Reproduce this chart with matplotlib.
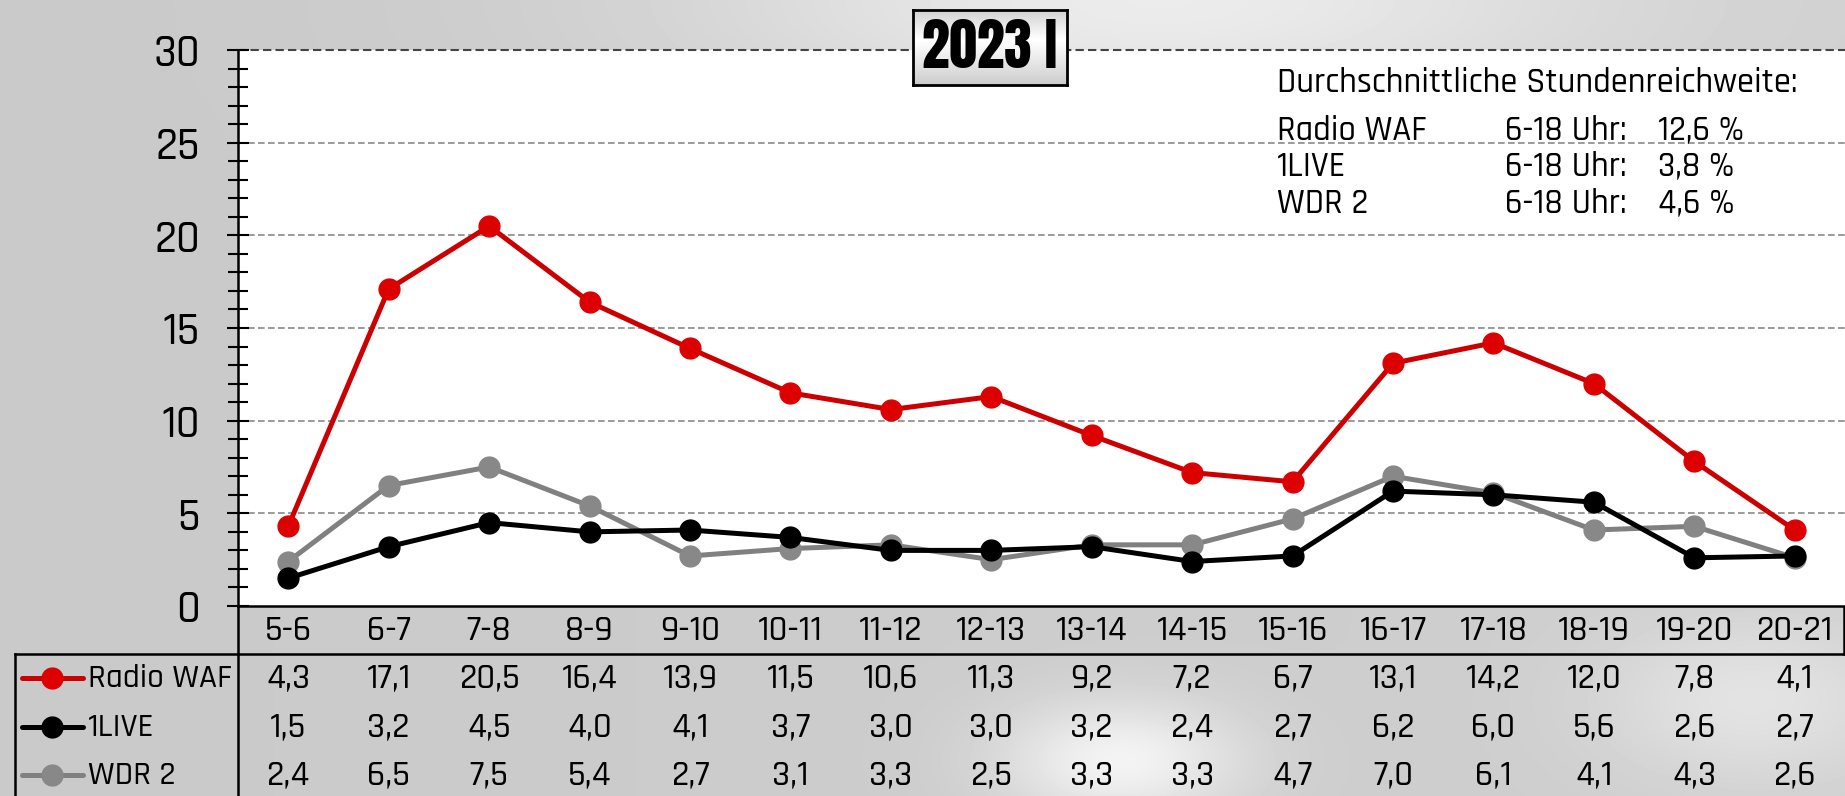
import numpy as np
import matplotlib
matplotlib.use("Agg")
import matplotlib.pyplot as plt
from matplotlib.ticker import MultipleLocator

# data
hours = ["5-6", "6-7", "7-8", "8-9", "9-10", "10-11", "11-12", "12-13",
         "13-14", "14-15", "15-16", "16-17", "17-18", "18-19", "19-20", "20-21"]
radio_waf = [4.3, 17.1, 20.5, 16.4, 13.9, 11.5, 10.6, 11.3, 9.2, 7.2, 6.7, 13.1, 14.2, 12.0, 7.8, 4.1]
live1 = [1.5, 3.2, 4.5, 4.0, 4.1, 3.7, 3.0, 3.0, 3.2, 2.4, 2.7, 6.2, 6.0, 5.6, 2.6, 2.7]
wdr2 = [2.4, 6.5, 7.5, 5.4, 2.7, 3.1, 3.3, 2.5, 3.3, 3.3, 4.7, 7.0, 6.1, 4.1, 4.3, 2.6]
series_names = ["Radio WAF", "1LIVE", "WDR 2"]
series_colors = ["#cc0000", "#000000", "#808080"]
marker_colors = ["#dd0000", "#000000", "#888888"]
avg_values = ["12,6 %", "3,8 %", "4,6 %"]

FONT = ["Rajdhani", "Saira Semi Condensed", "Fira Sans Condensed", "DejaVu Sans"]
TITLE_FONT = ["Anton", "Oswald", "Fira Sans Extra Condensed", "DejaVu Sans"]
plt.rcParams['font.family'] = FONT
plt.rcParams['font.weight'] = 500

W, H = 1845, 796
fig = plt.figure(figsize=(W / 100, H / 100), dpi=100)

# background gradient
bg = fig.add_axes([0, 0, 1, 1], zorder=-10)
yy, xx = np.mgrid[0:H, 0:W]
img = 0.79 + 0.02 * (xx / W)
img += 0.12 * np.exp(-(((xx - 1150) / 450.0) ** 2 + ((yy - 0) / 120.0) ** 2))
img += 0.15 * np.exp(-(((xx - 1120) / 120.0) ** 2 + ((yy - 760) / 60.0) ** 2))
img += 0.08 * np.exp(-(((xx - 1750) / 150.0) ** 2 + ((yy - 700) / 80.0) ** 2))
img = np.clip(img, 0, 1)
bg.imshow(img, cmap="gray", vmin=0, vmax=1, extent=[0, W, H, 0], aspect="auto")
bg.axis("off")

# main plot
left_px, right_px, top_px, bottom_px = 238, 1845, 50, 606
ax = fig.add_axes([left_px / W, 1 - bottom_px / H, (right_px - left_px) / W, (bottom_px - top_px) / H])
ax.set_facecolor("white")
x = np.arange(len(hours))
for vals, c, mc in zip([radio_waf, live1, wdr2][::-1], series_colors[::-1], marker_colors[::-1]):
    ax.plot(x, vals, color=c, lw=3.6, marker="o", ms=15, mfc=mc, mec=mc, zorder=3)
ax.set_xlim(-0.5, len(hours) - 0.5)
ax.set_ylim(0, 30)
ax.yaxis.set_major_locator(MultipleLocator(5))
ax.yaxis.set_minor_locator(MultipleLocator(1))
ax.tick_params(axis="y", which="major", direction="inout", length=16.5, width=1.5,
               labelsize=33, pad=19)
ax.tick_params(axis="y", which="minor", direction="inout", length=14.5, width=1.5)
ax.set_xticks([])
for yv in range(5, 30, 5):
    ax.axhline(yv, color="#8a8a8a", lw=1.2, ls=(0, (4, 2)), zorder=1)
ax.axhline(30, color="#444444", lw=1.5, ls=(0, (4, 2)), zorder=1, clip_on=False)
for s in ["top", "right"]:
    ax.spines[s].set_visible(False)
ax.spines["left"].set_linewidth(1.8)
ax.spines["bottom"].set_linewidth(1.8)

# average text
txt_kw = dict(fontsize=25, va="center", ha="left")
fig.text(1277 / W, 1 - 82 / H, "Durchschnittliche Stundenreichweite:", **txt_kw)
for i, (name, val) in enumerate(zip(series_names, avg_values)):
    yp = 1 - [130, 166, 203][i] / H
    fig.text(1277 / W, yp, name, **txt_kw)
    fig.text(1505 / W, yp, "6-18 Uhr:", **txt_kw)
    fig.text(1658 / W, yp, val, **txt_kw)

# title box
tb = fig.add_axes([913 / W, 1 - 85 / H, 154 / W, 75 / H], zorder=5)
grad = np.concatenate([np.linspace(0.82, 1.0, 30), np.linspace(1.0, 0.8, 45)])[:, None]
tb.imshow(grad, cmap="gray", vmin=0, vmax=1, extent=[0, 1, 0, 1], aspect="auto")
tb.set_xticks([])
tb.set_yticks([])
for s in tb.spines.values():
    s.set_linewidth(2)
tb.text(0.5, 0.5, "2023 I", ha="center", va="center", fontsize=40, fontweight="bold",
        family=TITLE_FONT, transform=tb.transAxes)

# table below
unit = (right_px - left_px) / len(hours)
ta = fig.add_axes([0, 0, 1, (H - bottom_px) / H], zorder=2)
ta.set_xlim(-0.5 - left_px / unit, len(hours) - 0.5)
ta.set_ylim(H, bottom_px)
ta.axis("off")


def px2x(px):
    return (px - left_px) / unit - 0.5


for i, h in enumerate(hours):
    ta.text(i, 630, h, ha="center", va="center", fontsize=26)
rows = [radio_waf, live1, wdr2]
row_y = [678, 727, 775]
for vals, ry, name, c, mc in zip(rows, row_y, series_names, series_colors, marker_colors):
    for i, v in enumerate(vals):
        ta.text(i, ry, f"{v:.1f}".replace(".", ","), ha="center", va="center", fontsize=26)
    ta.plot([px2x(22), px2x(83)], [ry, ry], color=c, lw=3.6, solid_capstyle="round")
    ta.plot([px2x(52)], [ry], marker="o", ms=15, color=mc)
    ta.text(px2x(88), ry, name, ha="left", va="center", fontsize=24)

ta.plot([px2x(15), px2x(1844)], [654, 654], color="black", lw=1.8)
ta.plot([px2x(15), px2x(15)], [654, H], color="black", lw=1.8)
ta.plot([px2x(left_px), px2x(left_px)], [bottom_px, H], color="black", lw=1.8)
ta.plot([px2x(1844), px2x(1844)], [bottom_px, 654], color="black", lw=1.8)

fig.savefig("out.png", dpi=100)
